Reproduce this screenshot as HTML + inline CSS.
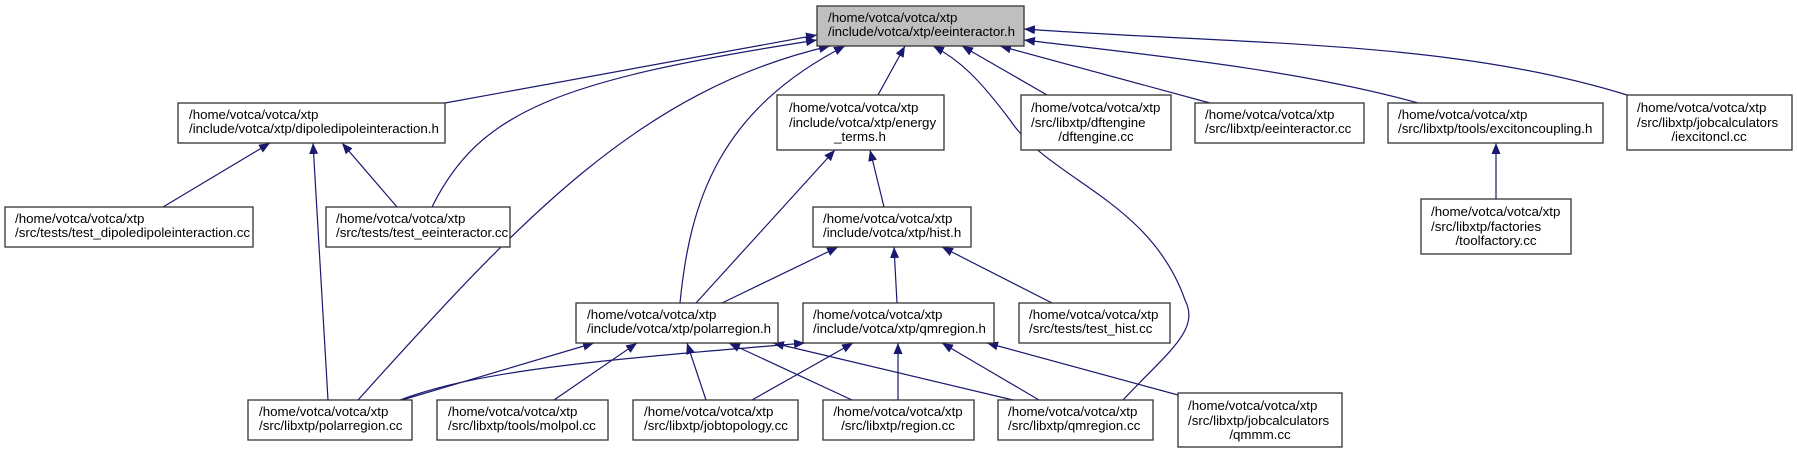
<!DOCTYPE html>
<html><head><meta charset="utf-8"><style>
html,body{margin:0;padding:0;background:#fff;}
svg{display:block;}
text{font-family:"Liberation Sans",Arial,sans-serif;font-size:13.3px;fill:#000;}
.b{fill:#fff;stroke:#333;stroke-width:1.3;}
.e{fill:none;stroke:#191970;stroke-width:1.2;}
</style></head><body>
<svg width="1797" height="453" viewBox="0 0 1797 453" xmlns="http://www.w3.org/2000/svg">
<defs><marker id="a" markerUnits="userSpaceOnUse" markerWidth="12" markerHeight="9" refX="11" refY="4.5" orient="auto"><path d="M0,0 L11,4.5 L0,9 z" fill="#191970"/></marker></defs>

<!-- edges -->
<g class="e" marker-end="url(#a)">
<path d="M445,103 L817,35"/>
<path d="M432,207 C480,110 560,80 817,40"/>
<path d="M358,400 C520,220 640,90 830,46"/>
<path d="M680,303 C690,200 720,110 845,46"/>
<path d="M878,95 L905,46"/>
<path d="M1123,400 C1170,350 1200,330 1185,300 C1150,200 1050,180 1010,120 C980,80 960,60 933,46"/>
<path d="M1047,95 L962,46"/>
<path d="M1210,103 L1000,46"/>
<path d="M1418,103 C1300,70 1150,55 1024,40"/>
<path d="M1627,95 C1450,40 1250,45 1024,29"/>
<path d="M163,207 L270,143"/>
<path d="M328,400 L313,143"/>
<path d="M397,207 L342,143"/>
<path d="M696,303 L835,150"/>
<path d="M884,207 L870,150"/>
<path d="M722,303 L838,247"/>
<path d="M897,303 L894,247"/>
<path d="M1052,303 L942,247"/>
<path d="M402,400 L594,343"/>
<path d="M554,400 L637,343"/>
<path d="M706,400 L687,343"/>
<path d="M852,400 L729,343"/>
<path d="M1013,400 L773,343"/>
<path d="M400,400 C480,370 600,360 805,343"/>
<path d="M752,400 L853,343"/>
<path d="M898,400 L898,343"/>
<path d="M1039,400 L942,343"/>
<path d="M1178,395 L987,343"/>
<path d="M1496,199 L1496,143"/>
</g>

<!-- nodes -->
<rect x="817" y="6" width="207" height="40" style="fill:#bfbfbf;stroke:#333;stroke-width:1.3"/>
<text x="828" y="22">/home/votca/votca/xtp</text><text x="828" y="36">/include/votca/xtp/eeinteractor.h</text>

<rect class="b" x="178" y="103" width="267" height="40"/>
<text x="189" y="119">/home/votca/votca/xtp</text><text x="189" y="133">/include/votca/xtp/dipoledipoleinteraction.h</text>

<rect class="b" x="5" y="207" width="248" height="40"/>
<text x="15" y="223">/home/votca/votca/xtp</text><text x="15" y="237">/src/tests/test_dipoledipoleinteraction.cc</text>

<rect class="b" x="326" y="207" width="184" height="40"/>
<text x="336" y="223">/home/votca/votca/xtp</text><text x="336" y="237">/src/tests/test_eeinteractor.cc</text>

<rect class="b" x="777" y="95" width="167" height="55"/>
<text x="789" y="112">/home/votca/votca/xtp</text><text x="789" y="127">/include/votca/xtp/energy</text><text x="860" y="141" text-anchor="middle">_terms.h</text>

<rect class="b" x="1021" y="95" width="150" height="55"/>
<text x="1031" y="112">/home/votca/votca/xtp</text><text x="1031" y="127">/src/libxtp/dftengine</text><text x="1096" y="141" text-anchor="middle">/dftengine.cc</text>

<rect class="b" x="1195" y="103" width="169" height="40"/>
<text x="1205" y="119">/home/votca/votca/xtp</text><text x="1205" y="133">/src/libxtp/eeinteractor.cc</text>

<rect class="b" x="1388" y="103" width="215" height="40"/>
<text x="1398" y="119">/home/votca/votca/xtp</text><text x="1398" y="133">/src/libxtp/tools/excitoncoupling.h</text>

<rect class="b" x="1627" y="95" width="165" height="55"/>
<text x="1637" y="112">/home/votca/votca/xtp</text><text x="1637" y="127">/src/libxtp/jobcalculators</text><text x="1709" y="141" text-anchor="middle">/iexcitoncl.cc</text>

<rect class="b" x="1421" y="199" width="150" height="55"/>
<text x="1431" y="216">/home/votca/votca/xtp</text><text x="1431" y="231">/src/libxtp/factories</text><text x="1496" y="245" text-anchor="middle">/toolfactory.cc</text>

<rect class="b" x="813" y="207" width="158" height="40"/>
<text x="823" y="223">/home/votca/votca/xtp</text><text x="823" y="237">/include/votca/xtp/hist.h</text>

<rect class="b" x="576" y="303" width="202" height="40"/>
<text x="587" y="319">/home/votca/votca/xtp</text><text x="587" y="333">/include/votca/xtp/polarregion.h</text>

<rect class="b" x="803" y="303" width="191" height="40"/>
<text x="813" y="319">/home/votca/votca/xtp</text><text x="813" y="333">/include/votca/xtp/qmregion.h</text>

<rect class="b" x="1019" y="303" width="151" height="40"/>
<text x="1029" y="319">/home/votca/votca/xtp</text><text x="1029" y="333">/src/tests/test_hist.cc</text>

<rect class="b" x="248" y="400" width="164" height="40"/>
<text x="259" y="416">/home/votca/votca/xtp</text><text x="259" y="430">/src/libxtp/polarregion.cc</text>

<rect class="b" x="437" y="400" width="171" height="40"/>
<text x="448" y="416">/home/votca/votca/xtp</text><text x="448" y="430">/src/libxtp/tools/molpol.cc</text>

<rect class="b" x="633" y="400" width="165" height="40"/>
<text x="644" y="416">/home/votca/votca/xtp</text><text x="644" y="430">/src/libxtp/jobtopology.cc</text>

<rect class="b" x="823" y="400" width="151" height="40"/>
<text x="898" y="416" text-anchor="middle">/home/votca/votca/xtp</text><text x="898" y="430" text-anchor="middle">/src/libxtp/region.cc</text>

<rect class="b" x="998" y="400" width="155" height="40"/>
<text x="1008" y="416">/home/votca/votca/xtp</text><text x="1008" y="430">/src/libxtp/qmregion.cc</text>

<rect class="b" x="1178" y="393" width="164" height="54"/>
<text x="1188" y="410">/home/votca/votca/xtp</text><text x="1188" y="425">/src/libxtp/jobcalculators</text><text x="1260" y="439" text-anchor="middle">/qmmm.cc</text>
</svg>
</body></html>
